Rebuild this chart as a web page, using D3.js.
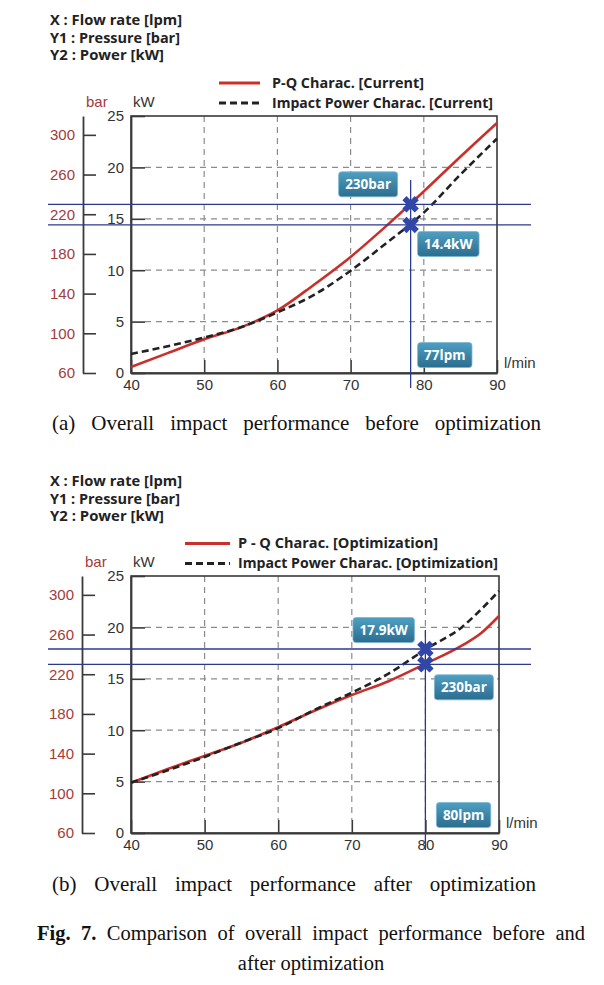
<!DOCTYPE html>
<html><head><meta charset="utf-8">
<script src="https://cdn.jsdelivr.net/npm/d3@7"></script>
<style>body{margin:0;background:#fff}svg{display:block}</style>
</head><body><svg id="c" width="604" height="985"></svg>
<script>
// ---------- data ----------
const flowTicks = [40, 50, 60, 70, 80, 90];
const kwTicks = [0, 5, 10, 15, 20, 25];
const barTicks = [60, 100, 140, 180, 220, 260, 300];
const headerLines = ["X : Flow rate [lpm]", "Y1 : Pressure [bar]", "Y2 : Power [kW]"];

const flowCurrent = [40, 45, 50, 55, 60, 65, 70, 75, 80, 85, 90];
const pqCurrent = [66, 80, 94, 106, 123, 149, 177, 209, 243, 278, 312];          // bar
const powerCurrent = [1.85, 2.6, 3.45, 4.45, 5.9, 7.6, 9.95, 12.7, 15.6, 19.3, 22.8]; // kW

const flowOpt = [40, 45, 50, 55, 60, 65, 70, 75, 80, 85, 87.5, 90];
const pqOpt = [110.6, 124.5, 137.7, 151, 166.7, 183.5, 199, 213, 230.5, 249, 261, 278.7];
const powerOpt = [4.9, 6.1, 7.4, 8.8, 10.2, 12.0, 13.65, 15.5, 17.85, 20.05, 21.7, 23.55];

const legendNames = [["P-Q Charac. [Current]", "Impact Power Charac. [Current]"],
                     ["P - Q Charac. [Optimization]", "Impact Power Charac. [Optimization]"]];
const markFlow = [78.2, 80];
const markBar = [230, 230];
const markKw = [14.4, 17.9];
const markLabels = [["230bar", "14.4kW", "77lpm"], ["230bar", "17.9kW", "80lpm"]];
const captions = ["(a) Overall impact performance before optimization",
                  "(b) Overall impact performance after optimization"];

// ---------- layout ----------
const headerWidths = [132, 130, 114];
const panels = [
  {top:116, bottom:373, left:131, right:497, barX:83, headerY:25, legY:83, legX0:219, legX1:260, legTX:272,
   legW:[152, 221], flows:flowCurrent, pq:pqCurrent, power:powerCurrent, vTop:180, vBot:388,
   barBox:{side:-1, dx:13, dy:-20}, kwBox:{side:1, dx:7, dy:19}, lpmDx:7, capY:430, capX1:541},
  {top:576, bottom:833, left:131, right:499, barX:82, headerY:486, legY:543.5, legX0:185, legX1:230, legTX:238,
   legW:[200, 260], flows:flowOpt, pq:pqOpt, power:powerOpt, vTop:630, vBot:850,
   barBox:{side:1, dx:9, dy:23}, kwBox:{side:-1, dx:11, dy:-19}, lpmDx:11, capY:891, capX1:536}
];

const FONT_UI = "'Open Sans','Noto Sans',sans-serif";
const FONT_AX = "'Liberation Sans',Arial,sans-serif";
const FONT_SERIF = "'Liberation Serif','Times New Roman',serif";
const RED = "#c9302c", BLUE = "#2b3990", BAR_C = "#a33b3b";

const svg = d3.select("#c");
const defs = svg.append("defs");
const grad = defs.append("linearGradient").attr("id","boxg").attr("x1",0).attr("y1",0).attr("x2",0).attr("y2",1);
grad.append("stop").attr("offset","0%").attr("stop-color","#4f9fc2");
grad.append("stop").attr("offset","100%").attr("stop-color","#2b6d8f");

function uiText(g, x, y, t, w) {
  const n = g.append("text").attr("x", x).attr("y", y).attr("font-family", FONT_UI).attr("font-weight", 700)
    .attr("font-size", 13.3).attr("fill", "#222").text(t);
  if (w) n.attr("textLength", w).attr("lengthAdjust", "spacingAndGlyphs");
  return n;
}

function labelBox(g, text, x, cy, anchorRight) {
  const t = g.append("text").attr("font-family", FONT_UI).attr("font-weight", 700).attr("font-size", 13.5)
    .attr("fill", "#fff").text(text);
  const w = t.node().getComputedTextLength() + 13, h = 25;
  const bx = anchorRight ? x - w : x;
  g.insert("rect", () => t.node()).attr("x", bx).attr("y", cy - h / 2).attr("width", w).attr("height", h)
    .attr("rx", 3).attr("fill", "url(#boxg)").attr("stroke", "#7ab6cf").attr("stroke-width", 0.8);
  t.attr("x", bx + w / 2).attr("y", cy).attr("text-anchor", "middle").attr("dy", "0.36em");
}

function justify(g, words, x0, x1, y, fs) {
  const nodes = words.map(w => g.append("text").attr("font-family", FONT_SERIF).attr("font-size", fs)
    .attr("font-weight", w.b ? "bold" : "normal").attr("fill", "#111").text(w.t));
  const widths = nodes.map(n => n.node().getComputedTextLength());
  const gap = (x1 - x0 - d3.sum(widths)) / (words.length - 1);
  let cx = x0;
  nodes.forEach((n, k) => { n.attr("x", cx).attr("y", y); cx += widths[k] + gap; });
}

panels.forEach((p, i) => {
  const g = svg.append("g");
  const x = d3.scaleLinear().domain([40, 90]).range([p.left, p.right]);
  const yk = d3.scaleLinear().domain([0, 25]).range([p.bottom, p.top]);
  const yb = d3.scaleLinear().domain([60, 319]).range([p.bottom, p.top]);

  // header
  headerLines.forEach((t, j) => uiText(g, 50, p.headerY + j * 17.6, t, headerWidths[j]));

  // legend
  [0, 1].forEach(j => {
    const ly = p.legY + j * 20;
    g.append("line").attr("x1", p.legX0).attr("x2", p.legX1).attr("y1", ly).attr("y2", ly)
      .attr("stroke", j ? "#222" : RED).attr("stroke-width", 3).attr("stroke-dasharray", j ? "7,4" : null);
    uiText(g, p.legTX, ly + 4.5, legendNames[i][j], p.legW[j]);
  });

  // units
  g.append("text").attr("x", p.barX + 3).attr("y", p.top - 9).attr("font-family", FONT_AX).attr("font-size", 15)
    .attr("fill", BAR_C).text("bar");
  g.append("text").attr("x", p.left + 2).attr("y", p.top - 9).attr("font-family", FONT_AX).attr("font-size", 15)
    .attr("fill", "#333").text("kW");
  g.append("text").attr("x", p.right + 7).attr("y", p.bottom - 5).attr("font-family", FONT_AX).attr("font-size", 15)
    .attr("fill", "#333").text("l/min");

  // grid
  g.append("g").selectAll("line").data(kwTicks.filter(v => v > 0 && v < 25)).join("line")
    .attr("x1", p.left + 14).attr("x2", p.right).attr("y1", d => yk(d)).attr("y2", d => yk(d))
    .attr("stroke", "#8c8c8c").attr("stroke-width", 1.2).attr("stroke-dasharray", "6,5");
  g.append("g").selectAll("line").data(flowTicks.filter(v => v > 40 && v < 90)).join("line")
    .attr("x1", d => x(d)).attr("x2", d => x(d)).attr("y1", p.top).attr("y2", p.bottom - 13)
    .attr("stroke", "#8c8c8c").attr("stroke-width", 1.2).attr("stroke-dasharray", "6,5");

  // frame
  g.append("rect").attr("x", p.left).attr("y", p.top).attr("width", p.right - p.left).attr("height", p.bottom - p.top)
    .attr("fill", "none").attr("stroke", "#3a3a3a").attr("stroke-width", 1.6);

  // axes
  const styleAxis = (sel, col) => {
    sel.selectAll("path,line").attr("stroke", "#3a3a3a").attr("stroke-width", 1.6);
    sel.selectAll("text").attr("font-family", FONT_AX).attr("font-size", 15).attr("fill", col);
  };
  g.append("g").attr("transform", `translate(${p.barX},0)`)
    .call(d3.axisLeft(yb).tickValues(barTicks).tickSizeInner(-13).tickSizeOuter(0).tickPadding(8))
    .call(s => styleAxis(s, BAR_C));
  g.append("g").attr("transform", `translate(${p.left},0)`)
    .call(d3.axisLeft(yk).tickValues(kwTicks).tickSizeInner(-14).tickSizeOuter(0).tickPadding(7))
    .call(s => styleAxis(s, "#333"));
  g.append("g").attr("transform", `translate(0,${p.bottom})`)
    .call(d3.axisBottom(x).tickValues(flowTicks).tickSizeInner(-13).tickSizeOuter(0).tickPadding(6))
    .call(s => styleAxis(s, "#333"));
  g.selectAll(".domain").attr("stroke-width", 1.8);

  // curves
  const line = d3.line().curve(d3.curveMonotoneX);
  g.append("path").attr("d", line(p.flows.map((f, k) => [x(f), yb(p.pq[k])])))
    .attr("fill", "none").attr("stroke", RED).attr("stroke-width", 2.6);
  g.append("path").attr("d", line(p.flows.map((f, k) => [x(f), yk(p.power[k])])))
    .attr("fill", "none").attr("stroke", "#222").attr("stroke-width", 2.6).attr("stroke-dasharray", "7,4");

  // marker lines
  const mx = x(markFlow[i]), myB = yb(markBar[i]), myK = yk(markKw[i]);
  [myB, myK].forEach(yy => g.append("line").attr("x1", 48).attr("x2", 531).attr("y1", yy).attr("y2", yy)
    .attr("stroke", BLUE).attr("stroke-width", 1.3));
  g.append("line").attr("x1", mx).attr("x2", mx).attr("y1", p.vTop).attr("y2", p.vBot)
    .attr("stroke", BLUE).attr("stroke-width", 1.3);
  const sym = d3.symbol().type(d3.symbolCross).size(170);
  [myB, myK].forEach(yy => g.append("path").attr("d", sym())
    .attr("transform", `translate(${mx},${yy}) rotate(45)`).attr("fill", "#3147a8"));

  // label boxes
  const bb = p.barBox, kb = p.kwBox;
  labelBox(g, markLabels[i][0], mx + bb.side * bb.dx, myB + bb.dy, bb.side < 0);
  labelBox(g, markLabels[i][1], mx + kb.side * kb.dx, myK + kb.dy, kb.side < 0);
  labelBox(g, markLabels[i][2], mx + p.lpmDx, p.bottom - 18, false);

  // caption
  justify(g, captions[i].split(" ").map(t => ({t})), 52, p.capX1, p.capY, 21);
});

// figure caption
const fg = svg.append("g");
justify(fg, [{t:"Fig.",b:1},{t:"7.",b:1},{t:"Comparison"},{t:"of"},{t:"overall"},{t:"impact"},{t:"performance"},{t:"before"},{t:"and"}],
  37, 585, 940, 20.5);
fg.append("text").attr("x", 311).attr("y", 970).attr("text-anchor", "middle").attr("font-family", FONT_SERIF)
  .attr("font-size", 20.5).attr("fill", "#111").text("after optimization");
</script></body></html>
